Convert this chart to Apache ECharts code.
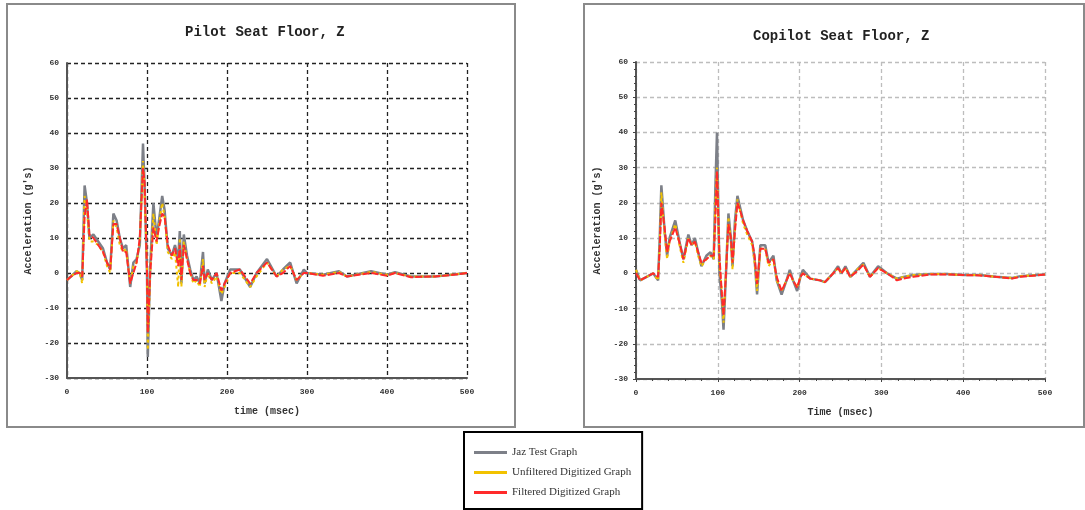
<!DOCTYPE html>
<html>
<head>
<meta charset="utf-8">
<script src="https://cdn.jsdelivr.net/npm/echarts@6/dist/echarts.min.js"></script>
<style>
  html, body { margin: 0; padding: 0; background: #fff; }
  #main { width: 1085px; height: 510px; }
</style>
</head>
<body>
<div id="main"></div>
<script>
// ---- data (time in msec, acceleration in g's) ----
var seriesNames = ['Jaz Test Graph', 'Unfiltered Digitized Graph', 'Filtered Digitized Graph'];
var xTicks = [0, 100, 200, 300, 400, 500];
var yTicks = [-30, -20, -10, 0, 10, 20, 30, 40, 50, 60];

// pilot seat floor
var pilotTime = [0, 5, 12, 16, 19, 22, 25, 28, 33, 39, 45, 50, 54, 58, 62, 66, 70, 74, 79, 83,
  87, 91, 95, 97, 100, 101, 104, 108, 112, 115, 119, 122, 126, 131, 135, 139, 141, 143, 146, 150,
  154, 158, 162, 166, 170, 172, 176, 181, 187, 193, 197, 204, 216, 229, 237, 250, 262, 270, 279, 287,
  296, 300, 320, 340, 350, 380, 400, 410, 430, 460, 480, 500];
var pilotTest = [-2, -1, 0.5, 0, -2, 25, 20, 10, 11, 9, 7, 3, 1, 17, 15, 10, 7, 8, -4, 3,
  4, 8, 37, 25, 0, -24, 2, 20, 10, 15, 22, 18, 7, 5, 8, 4, 12, -3, 11, 5,
  1, -2, -1, -3, 6, -3, 1, -2, 0, -8, -3, 1, 1, -4, 0, 4, -1, 1, 3, -3,
  1, 0, -0.5, 0.5, -1, 0.5, -0.5, 0.2, -1, -1, -0.5, 0];
var pilotUnfiltered = [-2, -1, 0.5, 0, -3, 22, 18, 9, 9, 8, 6, 2, 0, 15, 13, 8, 6, 7, -3, 2,
  3, 9, 32, 22, 2, -22, 0, 17, 8, 14, 20, 16, 6, 4, 6, -4, 10, -4, 9, 4,
  0, -3, -2, -4, 4, -4, 0, -3, -1, -6, -4, 0, 0, -4, -1, 3, -1, 1, 2, -2,
  0, 0, -0.5, 0.3, -1, 0.3, -0.5, 0, -1, -1, -0.5, 0];
var pilotFiltered = [-2, -1, 0, 0, -1, 16, 21, 11, 10, 8, 6, 3, 1, 14, 14, 10, 6, 6, -3, 0,
  3, 10, 30, 26, 0, -17, 0, 13, 9, 13, 17, 16, 8, 5, 7, 2, 8, -2, 8, 4,
  0, -2, -2, -3, 2, -2, 0, -2, 0, -5, -3, 0, 1, -3, 0, 3, -1, 0, 2, -2,
  0, 0, -0.8, 0, -1, 0, -0.8, 0, -1.2, -1, -0.6, 0];

// copilot seat floor
var copilotTime = [0, 5, 13, 21, 27, 29, 31, 35, 38, 41, 48, 54, 58, 64, 68, 72, 76, 80, 86, 91,
  95, 97, 99, 102, 105, 107, 110, 113, 116, 118, 121, 124, 127, 131, 136, 142, 145, 148, 152, 158,
  162, 168, 172, 178, 184, 188, 192, 197, 201, 204, 213, 225, 231, 241, 247, 251, 256, 262, 270, 278,
  286, 296, 307, 319, 327, 339, 360, 380, 400, 420, 440, 460, 470, 490, 500];
var copilotTest = [1, -2, -1, 0, -2, 10, 25, 12, 5, 10, 15, 8, 4, 11, 8, 10, 6, 2, 5, 6,
  4, 24, 40, 0, -8, -16, 0, 17, 10, 2, 15, 22, 19, 15, 12, 9, 4, -6, 8, 8,
  3, 5, -2, -6, -2, 1, -2, -5, -1, 1, -1.5, -2, -2.5, 0, 2, 0, 2, -1, 1, 3,
  -1, 2, 0, -1.5, -1, -0.5, -0.2, -0.2, -0.5, -0.5, -1, -1.3, -0.8, -0.5, -0.3];
var copilotUnfiltered = [1, -2, -1, 0, -2, 8, 23, 11, 4, 9, 14, 7, 3, 10, 8, 9, 5, 2, 4, 5,
  4, 20, 30, 2, -5, -14, 1, 16, 9, 1, 13, 21, 18, 14, 11, 8, 3, -5, 7, 7,
  2, 4, -2, -5, -2, 0, -2, -4, -1, 0, -1.5, -2, -2.5, 0, 1.5, 0, 1.5, -1, 1, 2.5,
  -1, 1.5, 0, -1.5, -1, -0.5, -0.2, -0.2, -0.5, -0.5, -1, -1.3, -0.8, -0.5, -0.3];
var copilotFiltered = [0, -2, -1, 0, -1, 7, 20, 13, 6, 9, 13, 8, 4, 10, 8, 9, 6, 3, 4, 5,
  5, 15, 29, 5, -6, -12, 0, 14, 10, 3, 12, 20, 18, 15, 12, 9, 5, -3, 7, 7,
  3, 4, -1, -5, -2, 0, -2, -4, -1, 0, -1.5, -2, -2.5, 0, 1.5, 0, 1.5, -1, 0.5, 2.5,
  -1, 1.5, 0, -2, -1.5, -1, -0.3, -0.3, -0.5, -0.6, -1, -1.5, -1, -0.6, -0.3];

function pairs(t, v) {
  return t.map(function (x, i) { return [x, v[i]]; });
}

var mono = 'Liberation Mono';
var colors = ['#7d8088', '#f2c200', '#ff2a2a'];

function makeX(idx, name, gridColor, minor) {
  return {
    gridIndex: idx, type: 'value', min: xTicks[0], max: xTicks[xTicks.length - 1], interval: 100,
    name: name, nameLocation: 'middle', nameGap: 28,
    nameTextStyle: { fontFamily: mono, fontWeight: 'bold', fontSize: 10, color: '#333' },
    axisLine: { onZero: false, lineStyle: { color: '#555', width: 2 } },
    axisTick: { show: minor, length: 3, lineStyle: { color: '#444' } },
    minorTick: { show: minor, splitNumber: 5, length: 2, lineStyle: { color: '#444' } },
    axisLabel: { fontFamily: mono, fontWeight: 'bold', fontSize: 8, color: '#333', margin: 10 },
    splitLine: { show: true, lineStyle: { color: gridColor, width: 1.3, type: [4, 3] } }
  };
}
function makeY(idx, gridColor, minor) {
  return {
    gridIndex: idx, type: 'value', min: yTicks[0], max: yTicks[yTicks.length - 1], interval: 10,
    name: "Acceleration (g's)", nameLocation: 'middle', nameGap: 34,
    nameTextStyle: { fontFamily: mono, fontWeight: 'bold', fontSize: 10, color: '#333' },
    axisLine: { onZero: false, lineStyle: { color: '#555', width: 2 } },
    axisTick: { show: minor, length: 3, lineStyle: { color: '#444' } },
    minorTick: { show: minor, splitNumber: 5, length: 2, lineStyle: { color: '#444' } },
    axisLabel: { fontFamily: mono, fontWeight: 'bold', fontSize: 8, color: '#333', margin: 8 },
    splitLine: { show: true, lineStyle: { color: gridColor, width: 1.3, type: [4, 3] } }
  };
}

function makeSeries(idx, t, vals) {
  var widths = [2.5, 2, 2];
  var dashes = ['solid', [3, 3], [7, 2]];
  return vals.map(function (v, k) {
    return {
      name: seriesNames[k], type: 'line', xAxisIndex: idx, yAxisIndex: idx,
      data: pairs(t, v), showSymbol: false, symbol: 'none', animation: false,
      color: colors[k],
      lineStyle: { color: colors[k], width: widths[k], type: dashes[k] },
      z: 2 + k
    };
  });
}

var myChart = echarts.init(document.getElementById('main'));
var option = {
  backgroundColor: '#fff',
  animation: false,
  graphic: [
    { type: 'rect', z: -10, shape: { x: 7, y: 4, width: 508, height: 423 },
      style: { fill: '#fff', stroke: '#8a8a8a', lineWidth: 2 } },
    { type: 'rect', z: -10, shape: { x: 584, y: 4, width: 500, height: 423 },
      style: { fill: '#fff', stroke: '#8a8a8a', lineWidth: 2 } }
  ],
  title: [
    { text: 'Pilot Seat Floor, Z', left: 180, top: 20,
      textStyle: { fontFamily: mono, fontWeight: 'bold', fontSize: 14, color: '#222' } },
    { text: 'Copilot Seat Floor, Z', left: 748, top: 24,
      textStyle: { fontFamily: mono, fontWeight: 'bold', fontSize: 14, color: '#222' } }
  ],
  legend: {
    left: 464, top: 432, orient: 'vertical',
    icon: 'rect', itemWidth: 33, itemHeight: 3, itemGap: 9,
    padding: [15, 11, 11, 10],
    borderColor: '#000', borderWidth: 2,
    data: seriesNames.map(function (n, k) {
      return { name: n, itemStyle: { color: colors[k] } };
    }),
    textStyle: { fontFamily: 'Liberation Serif', fontSize: 11, color: '#333' }
  },
  grid: [
    { left: 67, top: 63, width: 400, height: 315 },
    { left: 636, top: 62, width: 409, height: 317 }
  ],
  xAxis: [makeX(0, 'time (msec)', '#222', false), makeX(1, 'Time (msec)', '#bdbdbd', true)],
  yAxis: [makeY(0, '#222', false), makeY(1, '#bdbdbd', true)],
  series: makeSeries(0, pilotTime, [pilotTest, pilotUnfiltered, pilotFiltered])
    .concat(makeSeries(1, copilotTime, [copilotTest, copilotUnfiltered, copilotFiltered]))
};
myChart.setOption(option);
</script>
</body>
</html>
